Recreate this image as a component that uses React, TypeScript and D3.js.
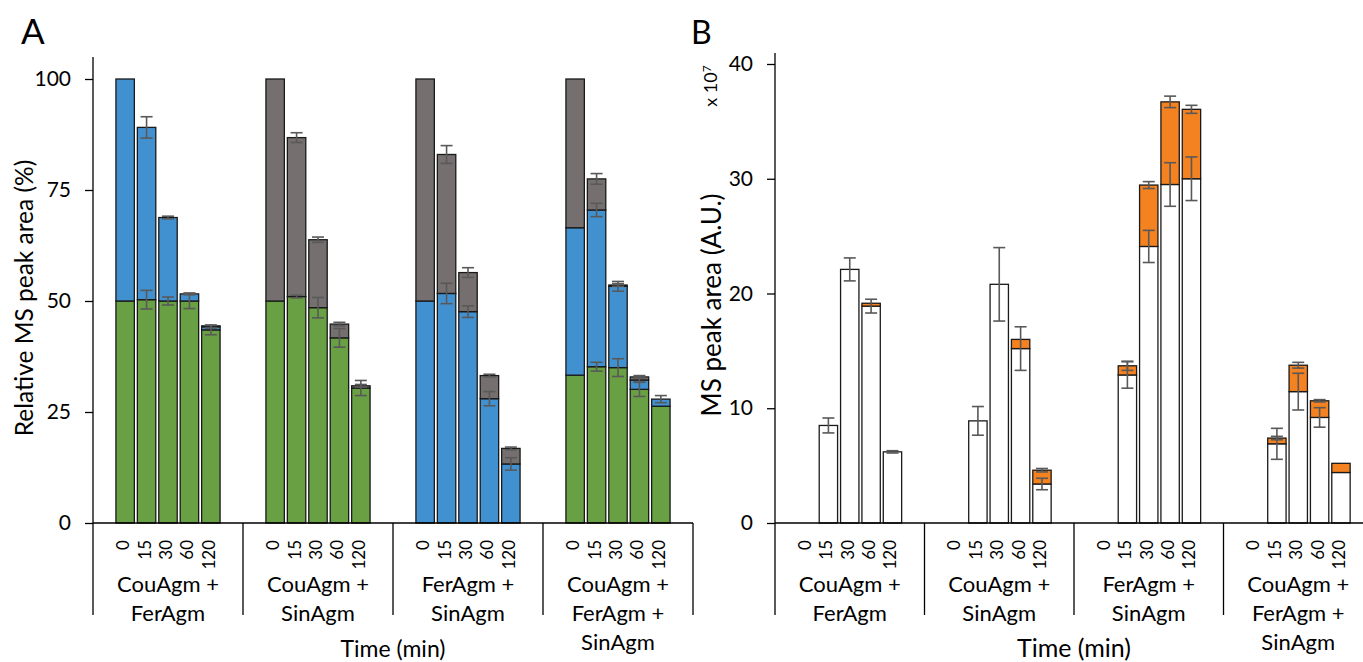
import React, {useEffect, useRef} from 'react'
import * as d3 from 'd3'

const W = 1363;
const H = 662;
const font = "Lato, 'Open Sans', sans-serif";

const times = ["0", "15", "30", "60", "120"];
const mixtures = [
    ["CouAgm +", "FerAgm"],
    ["CouAgm +", "SinAgm"],
    ["FerAgm +", "SinAgm"],
    ["CouAgm +", "FerAgm +", "SinAgm"]
];

// panel A, relative MS peak area (%), 4 mixtures x 5 time points
const couAgmRel = [50, 50.3, 50, 50, 43.5, 50, 51, 48.5, 41.7, 30.4, 0, 0, 0, 0, 0, 33.3, 35.2, 35, 30.1, 26.3];
const ferAgmRel = [50, 38.8, 18.8, 1.6, 0.7, 0, 0, 0, 0, 0, 50, 51.7, 47.6, 28, 13.3, 33.2, 35.3, 18.3, 2.1, 1.6];
const sinAgmRel = [0, 0, 0, 0, 0.2, 50, 35.8, 15.3, 3.1, 0.5, 50, 31.3, 8.8, 5.2, 3.5, 33.5, 7, 0.3, 0.7, 0];
const couAgmRelErr = [0, 2.1, 0.9, 1.7, 1.1, 0, 0.3, 2.3, 2.1, 1.7, 0, 0, 0, 0, 0, 0, 1.0, 2.0, 1.6, 0];
const ferAgmRelErr = [0, 2.4, 0.3, 0.2, 0.3, 0, 0, 0, 0, 0, 0, 2.3, 1.3, 1.6, 1.4, 0, 1.5, 1.1, 0.5, 0.8];
const sinAgmRelErr = [0, 0, 0, 0, 0, 0, 1.1, 0.6, 0.4, 0.3, 0, 2.0, 1.1, 0.3, 0.3, 0, 1.2, 0.3, 0.3, 0];

// panel B, MS peak area (A.U. x 10^7)
const whiteArea = [0, 8.5, 22.1, 18.9, 6.2, 0, 8.9, 20.8, 15.2, 3.4, 0, 12.9, 24.1, 29.5, 30.0, 0, 6.9, 11.45, 9.2, 4.4];
const orangeArea = [0, 0, 0, 0.25, 0, 0, 0, 0, 0.8, 1.2, 0, 0.8, 5.35, 7.2, 6.05, 0, 0.5, 2.3, 1.45, 0.8];
const whiteAreaErr = [0, 0.65, 1.0, 0.6, 0.1, 0, 1.25, 3.2, 1.9, 0.5, 0, 1.15, 1.4, 1.9, 1.9, 0, 1.35, 1.6, 0.85, 0];
const orangeAreaErr = [0, 0, 0, 0, 0, 0, 0, 0, 0, 0.15, 0, 0.4, 0.3, 0.5, 0.35, 0, 0.15, 0.25, 0.1, 0];

const ticksA = [0, 25, 50, 75, 100];
const ticksB = [0, 10, 20, 30, 40];

function drawPanel(svg, cfg) {
    const gw = cfg.groupWidth;
    const xGroup = d3.scaleBand().domain(d3.range(mixtures.length)).range([cfg.x0, cfg.x0 + gw * mixtures.length]);
    const xTime = d3.scaleBand().domain(times).range([0, gw]).paddingInner(0.14).paddingOuter(1.07);
    const y = d3.scaleLinear().domain(cfg.domain).range([523, cfg.top]);
    const bottom = 615;

    const g = svg.append("g");

    // bars
    const bars = g.append("g");
    const errs = g.append("g").attr("stroke", "#595959").attr("stroke-width", 1.6);
    for (let i = 0; i < times.length * mixtures.length; i++) {
        const gi = Math.floor(i / times.length);
        const t = times[i % times.length];
        const bx = xGroup(gi) + xTime(t);
        const bw = xTime.bandwidth();
        let cum = 0;
        cfg.series.forEach(s => {
            const v = s.values[i];
            if (v <= 0) return;
            bars.append("rect")
                .attr("x", bx).attr("width", bw)
                .attr("y", y(cum + v)).attr("height", y(cum) - y(cum + v))
                .attr("fill", s.color).attr("stroke", "#1a1a1a").attr("stroke-width", 1.3);
            cum += v;
            const e = s.errors[i];
            if (e > 0) {
                const cx = bx + bw / 2;
                errs.append("line").attr("x1", cx).attr("x2", cx).attr("y1", y(cum + e)).attr("y2", y(cum - e));
                [cum + e, cum - e].forEach(c => errs.append("line")
                    .attr("x1", cx - 6).attr("x2", cx + 6).attr("y1", y(c)).attr("y2", y(c)));
            }
        });
    }

    // y axis
    const yAxis = g.append("g")
        .attr("transform", `translate(${cfg.x0},0)`)
        .call(d3.axisLeft(y).tickValues(cfg.ticks).tickSize(8).tickPadding(14).tickFormat(d3.format("d")));
    yAxis.select(".domain").remove();
    yAxis.selectAll("line").attr("stroke", "#000").attr("stroke-width", 1.3);
    yAxis.selectAll("text").attr("font-family", font).attr("font-size", cfg.tickFont).attr("fill", "#000");

    const axes = g.append("g").attr("stroke", "#000").attr("stroke-width", 1.3);
    axes.append("line").attr("x1", cfg.x0).attr("x2", cfg.x0).attr("y1", cfg.axisTop).attr("y2", bottom);
    axes.append("line").attr("x1", cfg.x0).attr("x2", cfg.x0 + gw * mixtures.length).attr("y1", y(0)).attr("y2", y(0));
    mixtures.forEach((m, gi) => {
        const sx = xGroup(gi) + gw;
        axes.append("line").attr("x1", sx).attr("x2", sx).attr("y1", y(0)).attr("y2", bottom);
    });

    // time labels and mixture labels
    const labels = g.append("g").attr("font-family", font).attr("fill", "#000");
    mixtures.forEach((m, gi) => {
        times.forEach(t => {
            const cx = xGroup(gi) + xTime(t) + xTime.bandwidth() / 2;
            labels.append("text")
                .attr("transform", `translate(${cx - 2},${540}) rotate(-90)`)
                .attr("text-anchor", "end").attr("dy", "0.35em")
                .attr("font-size", 17)
                .text(t);
        });
        m.forEach((line, li) => labels.append("text")
            .attr("x", xGroup(gi) + gw / 2).attr("y", 592 + li * 29)
            .attr("text-anchor", "middle").attr("font-size", 22)
            .text(line));
    });

    labels.append("text")
        .attr("x", cfg.x0 + gw * 2).attr("y", 657)
        .attr("text-anchor", "middle").attr("font-size", cfg.timeFont)
        .text("Time (min)");

    labels.append("text")
        .attr("transform", `translate(${cfg.yLabelX},${cfg.yLabelY}) rotate(-90)`)
        .attr("text-anchor", "middle").attr("font-size", cfg.yLabelFont)
        .text(cfg.yLabel);

    labels.append("text")
        .attr("x", cfg.titleX).attr("y", 44).attr("font-size", cfg.titleFont)
        .text(cfg.title);
}

export default function App() {
    const ref = useRef(null);

    useEffect(() => {
        const svg = d3.select(ref.current);
        svg.selectAll("*").remove();
        svg.append("rect").attr("width", W).attr("height", H).attr("fill", "#fff");

        drawPanel(svg, {
            x0: 93, groupWidth: 150, domain: [0, 100], top: 79, axisTop: 57, ticks: ticksA,
            tickFont: 21, timeFont: 23,
            yLabel: "Relative MS peak area (%)", yLabelX: 33, yLabelY: 298, yLabelFont: 24.5,
            title: "A", titleX: 21, titleFont: 35,
            series: [
                {values: couAgmRel, errors: couAgmRelErr, color: "#68a043"},
                {values: ferAgmRel, errors: ferAgmRelErr, color: "#4191d1"},
                {values: sinAgmRel, errors: sinAgmRelErr, color: "#756f6f"}
            ]
        });

        drawPanel(svg, {
            x0: 775, groupWidth: 149.5, domain: [0, 40], top: 64, axisTop: 53, ticks: ticksB,
            tickFont: 21, timeFont: 25,
            yLabel: "MS peak area (A.U.)", yLabelX: 721, yLabelY: 305, yLabelFont: 26,
            title: "B", titleX: 691, titleFont: 32,
            series: [
                {values: whiteArea, errors: whiteAreaErr, color: "#ffffff"},
                {values: orangeArea, errors: orangeAreaErr, color: "#f58220"}
            ]
        });

        // exponent note for panel B
        const note = svg.append("text")
            .attr("transform", "translate(717,86) rotate(-90)")
            .attr("text-anchor", "middle")
            .attr("font-family", font).attr("font-size", 18).attr("fill", "#000");
        note.append("tspan").text("x 10");
        note.append("tspan").attr("dy", "-0.5em").attr("font-size", 12).text("7");
    }, []);

    return <svg ref={ref} width={W} height={H} style={{position: "absolute", left: 0, top: 0}}/>;
}
